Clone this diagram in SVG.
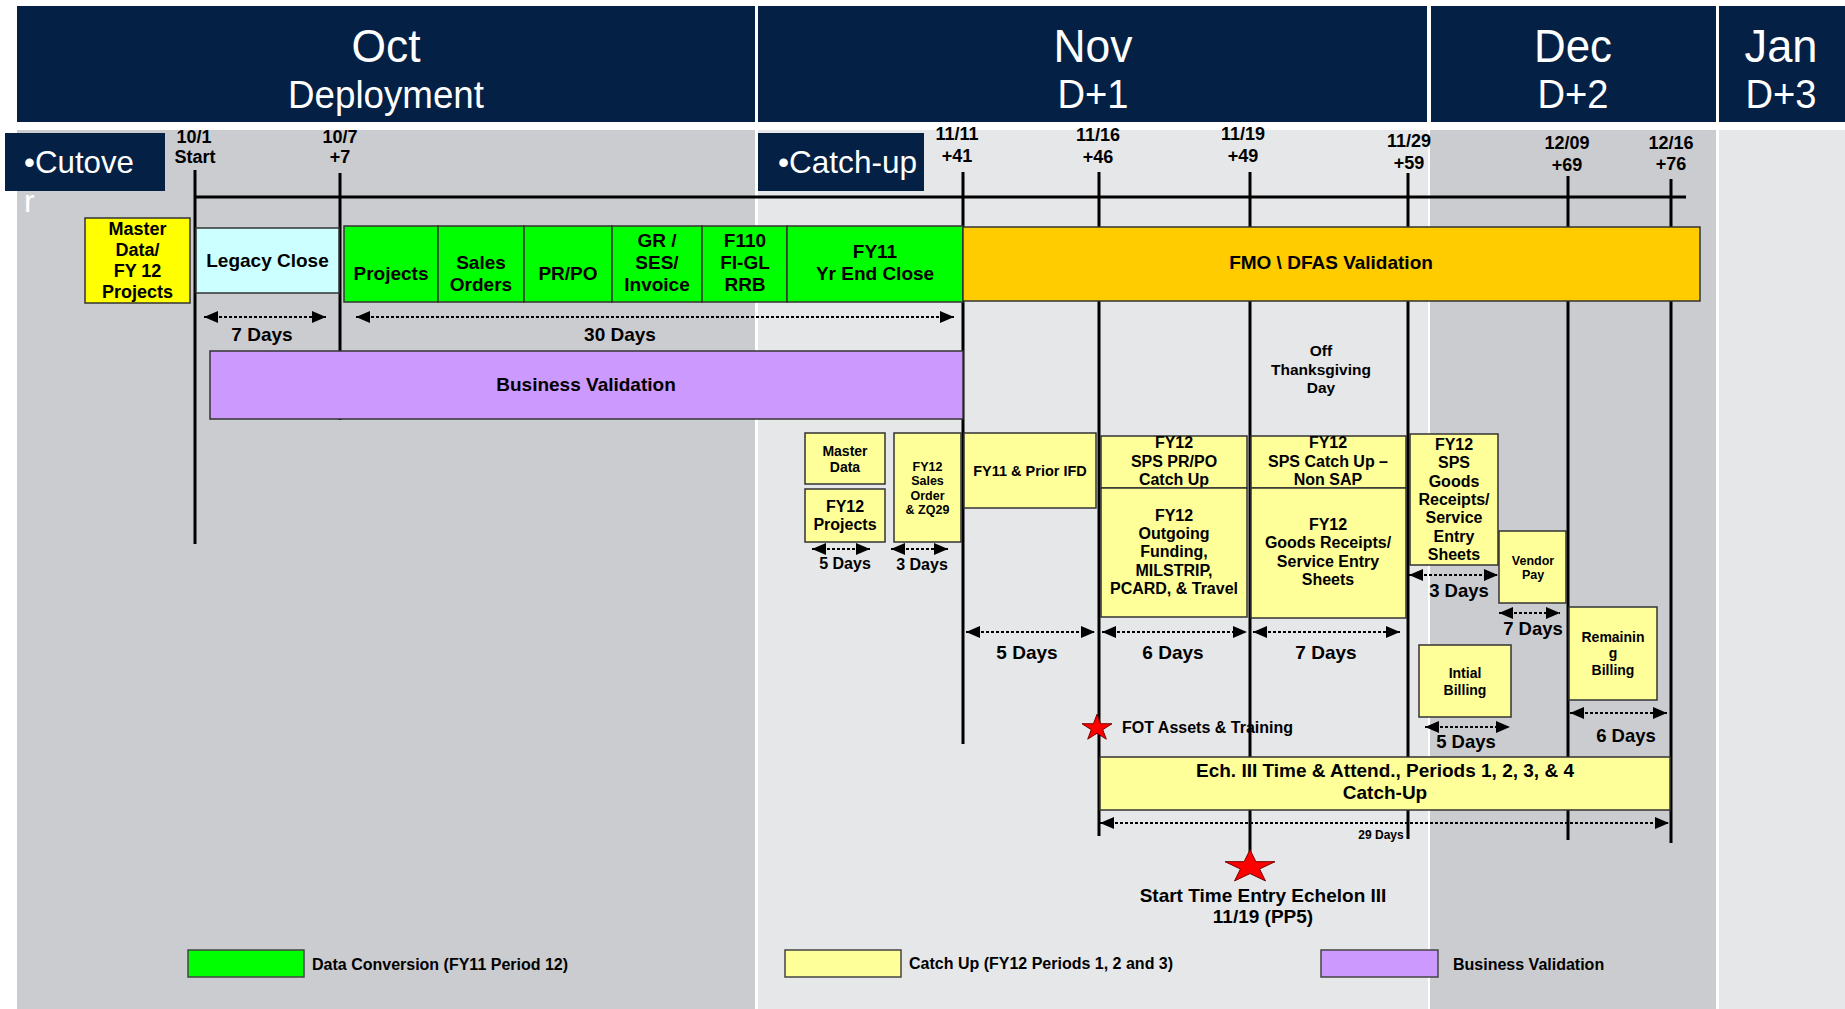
<svg xmlns="http://www.w3.org/2000/svg" xmlns:xlink="http://www.w3.org/1999/xlink" width="1845" height="1009" viewBox="0 0 1845 1009">
<defs>
<style>
.hdr{fill:#042145}
.pa{fill:#cbccd0}
.pb{fill:#e6e7e9}
.w{font-family:"Liberation Sans",Arial,sans-serif;fill:#fff;text-anchor:middle}
.t{font-family:"Liberation Sans",Arial,sans-serif;font-weight:bold;fill:#000;text-anchor:middle}
.l{text-anchor:start}
.vl{stroke:#000;stroke-width:3;fill:none}
.arr{stroke:#000;stroke-width:2;stroke-dasharray:3 2;fill:none;marker-start:url(#ah);marker-end:url(#ah)}
.box{stroke:#333;stroke-width:1.5}
.ly{fill:#ffff99}
.gr{fill:#00ff00}
.star{fill:#ff0000}
</style>
<marker id="ah" markerUnits="userSpaceOnUse" markerWidth="14" markerHeight="12" refX="14" refY="6" orient="auto-start-reverse">
<path d="M0,0 L14,6 L0,12 Z" fill="#000"/>
</marker>
<path id="star" d="M0,-10 L2.245,-3.09 L9.51,-3.09 L3.63,1.18 L5.88,8.09 L0,3.82 L-5.88,8.09 L-3.63,1.18 L-9.51,-3.09 L-2.245,-3.09 Z" stroke="#700" stroke-width="1" vector-effect="non-scaling-stroke"/>
</defs>
<rect x="0" y="0" width="1845" height="1009" fill="#ffffff"/>
<!-- body panels -->
<g id="panels">
<rect class="pa" x="17" y="130" width="738" height="879"/>
<rect class="pb" x="758" y="130" width="670" height="879"/>
<rect class="pa" x="1430" y="130" width="286" height="879"/>
<rect class="pb" x="1719" y="130" width="126" height="879"/>
</g>
<!-- headers -->
<g id="hdr-oct"><rect class="hdr" x="17" y="6" width="738" height="116"/>
<text class="w" x="386" y="62" font-size="47" textLength="69" lengthAdjust="spacingAndGlyphs">Oct</text>
<text class="w" x="386" y="108" font-size="39" textLength="196" lengthAdjust="spacingAndGlyphs">Deployment</text></g>
<g id="hdr-nov"><rect class="hdr" x="758" y="6" width="669" height="116"/>
<text class="w" x="1093" y="62" font-size="47" textLength="79" lengthAdjust="spacingAndGlyphs">Nov</text>
<text class="w" x="1093" y="108" font-size="40" textLength="71" lengthAdjust="spacingAndGlyphs">D+1</text></g>
<g id="hdr-dec"><rect class="hdr" x="1431" y="6" width="285" height="116"/>
<text class="w" x="1573" y="62" font-size="47" textLength="78" lengthAdjust="spacingAndGlyphs">Dec</text>
<text class="w" x="1573" y="108" font-size="40" textLength="71" lengthAdjust="spacingAndGlyphs">D+2</text></g>
<g id="hdr-jan"><rect class="hdr" x="1719" y="6" width="126" height="116"/>
<text class="w" x="1781" y="62" font-size="47" textLength="73" lengthAdjust="spacingAndGlyphs">Jan</text>
<text class="w" x="1781" y="108" font-size="40" textLength="71" lengthAdjust="spacingAndGlyphs">D+3</text></g>
<g id="lbl-cutover"><rect class="hdr" x="5" y="133" width="160" height="58"/>
<text class="w l" x="24" y="173" font-size="32" textLength="110" lengthAdjust="spacingAndGlyphs">•Cutove</text>
<text class="w l" x="24" y="212" font-size="32">r</text></g>
<g id="lbl-catchup"><rect class="hdr" x="758" y="133" width="166" height="58"/>
<text class="w l" x="778" y="173" font-size="32" textLength="139" lengthAdjust="spacingAndGlyphs">•Catch-up</text></g>
<!-- milestone labels -->
<g id="milestones">
<text class="t" x="194" y="143" font-size="18">10/1</text><text class="t" x="195" y="163" font-size="18">Start</text>
<text class="t" x="340" y="143" font-size="18">10/7</text><text class="t" x="340" y="163" font-size="18">+7</text>
<text class="t" x="957" y="140" font-size="18">11/11</text><text class="t" x="957" y="162" font-size="18">+41</text>
<text class="t" x="1098" y="141" font-size="18">11/16</text><text class="t" x="1098" y="163" font-size="18">+46</text>
<text class="t" x="1243" y="140" font-size="18">11/19</text><text class="t" x="1243" y="162" font-size="18">+49</text>
<text class="t" x="1409" y="147" font-size="18">11/29</text><text class="t" x="1409" y="169" font-size="18">+59</text>
<text class="t" x="1567" y="149" font-size="18">12/09</text><text class="t" x="1567" y="171" font-size="18">+69</text>
<text class="t" x="1671" y="149" font-size="18">12/16</text><text class="t" x="1671" y="170" font-size="18">+76</text>
</g>
<text class="t l" x="1122" y="733" font-size="16">FOT Assets &amp; Training</text>
<!-- timeline lines -->
<g id="timeline">
<line class="vl" x1="195" y1="197" x2="1686" y2="197" stroke-width="4"/>
<line class="vl" x1="195" y1="170" x2="195" y2="544"/>
<line class="vl" x1="340" y1="173" x2="340" y2="420"/>
<line class="vl" x1="963" y1="172" x2="963" y2="744"/>
<line class="vl" x1="1099" y1="172" x2="1099" y2="836"/>
<line class="vl" x1="1250" y1="172" x2="1250" y2="852"/>
<line class="vl" x1="1408" y1="173" x2="1408" y2="839"/>
<line class="vl" x1="1568" y1="176" x2="1568" y2="840"/>
<line class="vl" x1="1671" y1="179" x2="1671" y2="843"/>
</g>
<!-- row 1 -->
<g id="n-master-data"><rect class="box" x="85" y="218" width="105" height="85" fill="#ffff00"/>
<text class="t" x="137.5" y="235" font-size="18">Master</text><text class="t" x="137.5" y="256" font-size="18">Data/</text>
<text class="t" x="137.5" y="277" font-size="18">FY 12</text><text class="t" x="137.5" y="298" font-size="18">Projects</text></g>
<g id="n-legacy"><rect class="box" x="196" y="228" width="143" height="65" fill="#ccffff"/>
<text class="t" x="267.5" y="267" font-size="19">Legacy Close</text></g>
<g id="n-projects"><rect class="box gr" x="344" y="226" width="94" height="76"/>
<text class="t" x="391" y="280" font-size="19">Projects</text></g>
<g id="n-sales"><rect class="box gr" x="438" y="226" width="86" height="76"/>
<text class="t" x="481" y="269" font-size="19">Sales</text><text class="t" x="481" y="291" font-size="19">Orders</text></g>
<g id="n-prpo"><rect class="box gr" x="524" y="226" width="88" height="76"/>
<text class="t" x="568" y="280" font-size="19">PR/PO</text></g>
<g id="n-gr"><rect class="box gr" x="612" y="226" width="90" height="76"/>
<text class="t" x="657" y="247" font-size="19">GR /</text><text class="t" x="657" y="269" font-size="19">SES/</text><text class="t" x="657" y="291" font-size="19">Invoice</text></g>
<g id="n-f110"><rect class="box gr" x="702" y="226" width="85" height="76"/>
<text class="t" x="745" y="247" font-size="19">F110</text><text class="t" x="745" y="269" font-size="19">FI-GL</text><text class="t" x="745" y="291" font-size="19">RRB</text></g>
<g id="n-fy11"><rect class="box gr" x="787" y="226" width="176" height="76"/>
<text class="t" x="875" y="258" font-size="19">FY11</text><text class="t" x="875" y="280" font-size="19">Yr End Close</text></g>
<g id="n-fmo"><rect class="box" x="963" y="227" width="737" height="74" fill="#ffcc00"/>
<text class="t" x="1331" y="269" font-size="19">FMO \ DFAS Validation</text></g>
<g id="n-bizval"><rect class="box" x="210" y="351" width="753" height="68" fill="#cc99ff"/>
<text class="t" x="586" y="391" font-size="19">Business Validation</text></g>
<g id="n-offday"><text class="t" x="1321" y="356" font-size="15.5">Off</text><text class="t" x="1321" y="375" font-size="15.5">Thanksgiving</text><text class="t" x="1321" y="393" font-size="15.5">Day</text></g>
<!-- catch-up boxes -->
<g id="n-md2"><rect class="box ly" x="805" y="433" width="80" height="51"/>
<text class="t" x="845" y="456" font-size="14">Master</text><text class="t" x="845" y="472" font-size="14">Data</text></g>
<g id="n-fy12proj"><rect class="box ly" x="805" y="489" width="80" height="53"/>
<text class="t" x="845" y="512" font-size="16">FY12</text><text class="t" x="845" y="530" font-size="16">Projects</text></g>
<g id="n-fy12sales"><rect class="box ly" x="894" y="433" width="67" height="109"/>
<text class="t" x="927.5" y="471" font-size="12.5">FY12</text><text class="t" x="927.5" y="485" font-size="12.5">Sales</text>
<text class="t" x="927.5" y="500" font-size="12.5">Order</text><text class="t" x="927.5" y="514" font-size="12.5">&amp; ZQ29</text></g>
<g id="n-ifd"><rect class="box ly" x="964" y="433" width="132" height="75"/>
<text class="t" x="1030" y="476" font-size="14.5">FY11 &amp; Prior IFD</text></g>
<g id="n-sps-prpo"><rect class="box ly" x="1101" y="436" width="146" height="52"/>
<text class="t" x="1174" y="448" font-size="16">FY12</text><text class="t" x="1174" y="467" font-size="16">SPS PR/PO</text><text class="t" x="1174" y="485" font-size="16">Catch Up</text></g>
<g id="n-outgoing"><rect class="box ly" x="1101" y="488" width="146" height="129"/>
<text class="t" x="1174" y="521" font-size="16">FY12</text><text class="t" x="1174" y="539" font-size="16">Outgoing</text>
<text class="t" x="1174" y="557" font-size="16">Funding,</text><text class="t" x="1174" y="576" font-size="16">MILSTRIP,</text>
<text class="t" x="1174" y="594" font-size="16">PCARD, &amp; Travel</text></g>
<g id="n-sps-nonsap"><rect class="box ly" x="1251" y="436" width="155" height="52"/>
<text class="t" x="1328" y="448" font-size="16">FY12</text><text class="t" x="1328" y="467" font-size="16">SPS Catch Up –</text><text class="t" x="1328" y="485" font-size="16">Non SAP</text></g>
<g id="n-goods"><rect class="box ly" x="1251" y="488" width="155" height="130"/>
<text class="t" x="1328" y="530" font-size="16">FY12</text><text class="t" x="1328" y="548" font-size="16">Goods Receipts/</text>
<text class="t" x="1328" y="567" font-size="16">Service Entry</text><text class="t" x="1328" y="585" font-size="16">Sheets</text></g>
<g id="n-sps-goods"><rect class="box ly" x="1410" y="434" width="88" height="131"/>
<text class="t" x="1454" y="450" font-size="16">FY12</text><text class="t" x="1454" y="468" font-size="16">SPS</text>
<text class="t" x="1454" y="487" font-size="16">Goods</text><text class="t" x="1454" y="505" font-size="16">Receipts/</text>
<text class="t" x="1454" y="523" font-size="16">Service</text><text class="t" x="1454" y="542" font-size="16">Entry</text>
<text class="t" x="1454" y="560" font-size="16">Sheets</text></g>
<g id="n-vendor"><rect class="box ly" x="1499" y="531" width="67" height="72"/>
<text class="t" x="1533" y="565" font-size="12.5">Vendor</text><text class="t" x="1533" y="579" font-size="12.5">Pay</text></g>
<g id="n-remaining"><rect class="box ly" x="1569" y="607" width="88" height="93"/>
<text class="t" x="1613" y="642" font-size="14">Remainin</text><text class="t" x="1613" y="658" font-size="14">g</text><text class="t" x="1613" y="675" font-size="14">Billing</text></g>
<g id="n-initial"><rect class="box ly" x="1419" y="645" width="92" height="72"/>
<text class="t" x="1465" y="678" font-size="14">Intial</text><text class="t" x="1465" y="695" font-size="14">Billing</text></g>
<g id="n-ech"><rect class="box ly" x="1100" y="757" width="570" height="53"/>
<text class="t" x="1385" y="777" font-size="19">Ech. III Time &amp; Attend., Periods 1, 2, 3, &amp; 4</text>
<text class="t" x="1385" y="799" font-size="19">Catch-Up</text></g>
<!-- connectors: duration arrows -->
<g id="connectors">
<line class="arr" x1="204" y1="317" x2="326" y2="317"/>
<line class="arr" x1="356" y1="317" x2="954" y2="317"/>
<line class="arr" x1="812" y1="549" x2="870" y2="549"/>
<line class="arr" x1="891" y1="549" x2="948" y2="549"/>
<line class="arr" x1="966" y1="632" x2="1095" y2="632"/>
<line class="arr" x1="1102" y1="632" x2="1247" y2="632"/>
<line class="arr" x1="1253" y1="632" x2="1400" y2="632"/>
<line class="arr" x1="1409" y1="575" x2="1498" y2="575"/>
<line class="arr" x1="1499" y1="613" x2="1560" y2="613"/>
<line class="arr" x1="1570" y1="713" x2="1667" y2="713"/>
<line class="arr" x1="1425" y1="727" x2="1510" y2="727"/>
<line class="arr" x1="1100" y1="823" x2="1669" y2="823"/>
</g>
<g id="duration-labels">
<text class="t" x="262" y="341" font-size="19">7 Days</text>
<text class="t" x="620" y="341" font-size="19">30 Days</text>
<text class="t" x="845" y="569" font-size="16">5 Days</text>
<text class="t" x="922" y="570" font-size="16">3 Days</text>
<text class="t" x="1027" y="659" font-size="19">5 Days</text>
<text class="t" x="1173" y="659" font-size="19">6 Days</text>
<text class="t" x="1326" y="659" font-size="19">7 Days</text>
<text class="t" x="1459" y="597" font-size="18.5">3 Days</text>
<text class="t" x="1533" y="635" font-size="18.5">7 Days</text>
<text class="t" x="1626" y="742" font-size="18.5">6 Days</text>
<text class="t" x="1466" y="748" font-size="18.5">5 Days</text>
<text class="t" x="1381" y="839" font-size="12">29 Days</text>
</g>
<!-- stars -->
<g id="n-fot-star"><use xlink:href="#star" class="star" transform="translate(1097,728) scale(1.58,1.38)"/></g>
<g id="n-start-star"><use xlink:href="#star" class="star" transform="translate(1250,867) scale(2.63,1.72)"/>
<text class="t" x="1263" y="902" font-size="19">Start Time Entry Echelon III</text>
<text class="t" x="1263" y="923" font-size="19">11/19 (PP5)</text></g>
<!-- legend -->
<g id="legend">
<rect x="188" y="950" width="116" height="27" fill="#00ff00" stroke="#444" stroke-width="1.5"/>
<text class="t l" x="312" y="970" font-size="16">Data Conversion (FY11 Period 12)</text>
<rect x="785" y="950" width="116" height="27" fill="#ffff99" stroke="#444" stroke-width="1.5"/>
<text class="t l" x="909" y="969" font-size="16">Catch Up (FY12 Periods 1, 2 and 3)</text>
<rect x="1321" y="950" width="117" height="27" fill="#cc99ff" stroke="#444" stroke-width="1.5"/>
<text class="t l" x="1453" y="970" font-size="16">Business Validation</text>
</g>
</svg>
